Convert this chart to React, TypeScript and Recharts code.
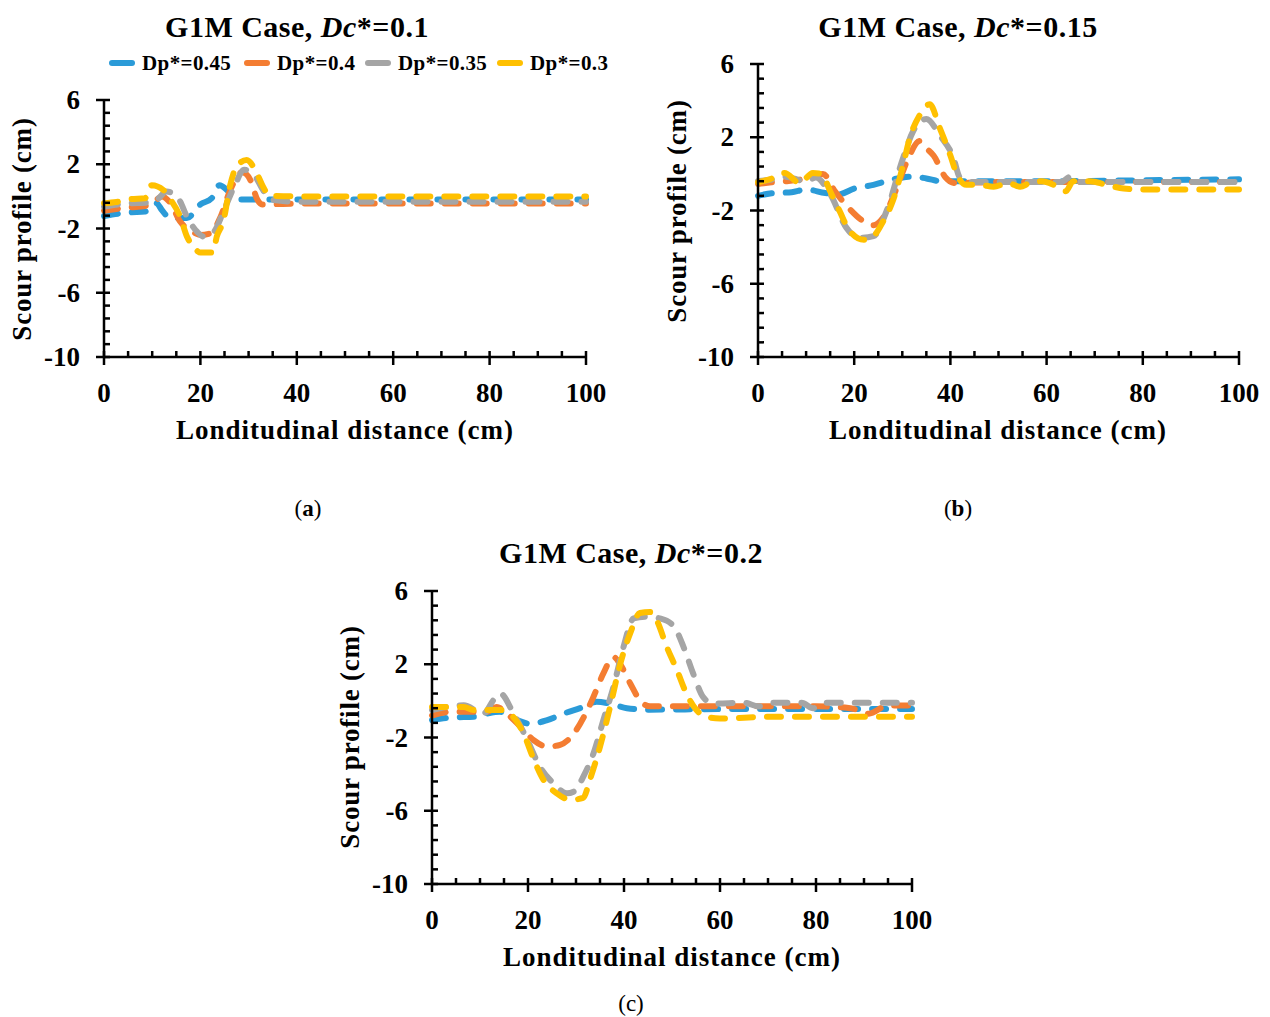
import React from "react";
import { LineChart, Line, XAxis, YAxis } from "recharts";

type Pt = [number, number];

// tick values
const xTicks = [0, 5, 10, 15, 20, 25, 30, 35, 40, 45, 50, 55, 60, 65, 70, 75, 80, 85, 90, 95, 100];
const xMajor = [0, 20, 40, 60, 80, 100];
const yTicks = [-10, -9.2, -8.4, -7.6, -6.8, -6, -5.2, -4.4, -3.6, -2.8, -2, -1.2, -0.4, 0.4, 1.2, 2, 2.8, 3.6, 4.4, 5.2, 6];
const yMajor = [-10, -6, -2, 2, 6];

const seriesNames = ["Dp*=0.45", "Dp*=0.4", "Dp*=0.35", "Dp*=0.3"];
const seriesColors = ["#2B9BD8", "#F47D32", "#A5A5A5", "#FFC000"];

// (a) Dc*=0.1
const a045: Pt[] = [[0, -1.22], [5.4, -1.0], [8.5, -0.95], [10.9, -0.43], [12, -0.85], [13.7, -1.35], [17.2, -1.35], [20, -0.5], [22.4, -0.1], [24, 0.7], [25.5, 0.4], [28, -0.2], [35, -0.2], [60, -0.2], [100, -0.2]];
const a040: Pt[] = [[0, -0.89], [5.4, -0.68], [8.5, -0.6], [10.9, -0.2], [12, 0], [13.8, -0.43], [15.8, -1.57], [17.9, -2.1], [20, -2.4], [22.1, -2.3], [24.2, -1.26], [26.2, 0.4], [28.7, 1.5], [30.4, 1.0], [31.8, -0.2], [32.8, -0.5], [40, -0.45], [100, -0.45]];
const a035: Pt[] = [[0, -0.64], [5.4, -0.43], [8.5, -0.4], [10.9, -0.22], [13, 0.3], [15.6, -0.22], [17.2, -1.26], [19.3, -2.2], [20.7, -2.5], [22.8, -2.2], [24.9, -0.85], [27, 0.6], [29.1, 1.65], [31.1, 1.35], [33.2, 0.3], [34.9, -0.22], [40, -0.33], [100, -0.33]];
const a030: Pt[] = [[0, -0.43], [2.6, -0.35], [5.4, -0.18], [8.5, -0.12], [9.9, 0.7], [12.3, 0.4], [13.8, -0.2], [15.8, -1.26], [17.2, -2.5], [18.5, -3.1], [20, -3.5], [22.6, -3.5], [23.4, -2.5], [24.8, -1.5], [26.1, 0.6], [27.5, 1.85], [29.6, 2.27], [31.7, 1.44], [33, 0.6], [34.4, 0.05], [40, 0], [100, 0]];

// (b) Dc*=0.15
const b045: Pt[] = [[0, -1.2], [3, -1.05], [7, -1.0], [10, -0.85], [14, -1.05], [17, -1.1], [20, -0.8], [24, -0.6], [28, -0.3], [32, -0.15], [35, -0.25], [38, -0.4], [45, -0.4], [60, -0.4], [80, -0.35], [100, -0.3]];
const b040: Pt[] = [[0, -0.55], [3, -0.45], [6, -0.4], [9, -0.3], [13.5, 0], [16, -0.95], [19, -1.9], [22, -2.6], [24, -2.8], [26, -2.4], [28.8, -0.8], [31, 0.7], [33.6, 1.8], [35, 1.4], [36.5, 1.0], [39, -0.2], [41, -0.5], [50, -0.45], [70, -0.45], [100, -0.45]];
const b035: Pt[] = [[0, -0.4], [3, -0.3], [5.5, -0.15], [10, -0.4], [12, -0.2], [15, -1.1], [18.4, -2.95], [21, -3.5], [24, -3.4], [26.7, -2.05], [30.2, 0.9], [32.2, 2.3], [35, 3.0], [37.8, 2.1], [40.6, 0.9], [42, -0.2], [45, -0.45], [60, -0.45], [63, -0.45], [65, -0.15], [67, -0.45], [80, -0.45], [100, -0.45]];
const b030: Pt[] = [[0, -0.46], [2.4, -0.3], [5.5, 0.05], [8.7, -0.5], [11.4, 0.05], [13.2, 0], [15, -0.95], [17, -2.05], [19, -3.1], [22, -3.6], [24, -3.4], [26, -2.6], [28, -1.5], [30, 0.3], [31.6, 2.0], [33.6, 3.2], [35.7, 3.8], [37.8, 2.5], [40, 1.0], [41.3, 0], [43.3, -0.6], [46, -0.6], [49, -0.7], [52, -0.5], [54.5, -0.7], [56.5, -0.5], [59, -0.4], [61.5, -0.6], [64, -0.95], [65.5, -0.4], [69, -0.4], [72.5, -0.6], [76, -0.8], [80, -0.85], [100, -0.85]];

// (c) Dc*=0.2
const c045: Pt[] = [[0, -1.05], [4.5, -0.9], [8.7, -0.87], [11.4, -0.7], [14.2, -0.6], [17.7, -1.05], [20.5, -1.25], [24, -1.05], [27.4, -0.7], [31.6, -0.33], [34.3, -0.05], [37, -0.15], [40.6, -0.4], [45, -0.48], [60, -0.45], [80, -0.45], [100, -0.45]];
const c040: Pt[] = [[0, -0.8], [4, -0.6], [8, -0.6], [11.4, -0.6], [13.5, -0.33], [15.6, -0.7], [18.4, -1.4], [21.2, -2.15], [24, -2.5], [26.7, -2.4], [29.5, -1.8], [31.6, -0.9], [33.6, 0.2], [35.7, 1.5], [37.8, 2.4], [39.2, 2.0], [41.3, 0.95], [43.3, 0.04], [45.4, -0.3], [60, -0.3], [80, -0.3], [85, -0.35], [88, -0.45], [91, -0.7], [95, -0.25], [100, -0.25]];
const c035: Pt[] = [[0, -0.5], [6.6, -0.24], [10.7, -0.7], [12.8, 0.04], [14.2, 0.4], [17, -0.7], [19.8, -2.1], [22.5, -3.6], [25.3, -4.5], [28.1, -5.05], [29.5, -4.96], [31.6, -4.1], [33.6, -2.9], [35.7, -1.05], [37.8, 0.76], [39.9, 2.95], [42, 4.5], [44.7, 4.6], [47.5, 4.5], [50.3, 4.1], [52.4, 2.95], [54.4, 1.5], [56.5, 0.2], [58.6, -0.15], [65, -0.1], [68, -0.3], [71, -0.1], [77, -0.1], [79.4, -0.4], [82, -0.1], [100, -0.1]];
const c030: Pt[] = [[0, -0.33], [6.6, -0.33], [8.7, -0.5], [14.2, -0.5], [17, -0.9], [19.1, -1.8], [21.2, -3.2], [23.2, -4.3], [26, -5.05], [28.8, -5.4], [31.5, -5.3], [32.9, -4.3], [35, -2.5], [37.1, -0.33], [39.2, 2.0], [41.3, 3.7], [43.3, 4.8], [45.4, 4.85], [46.8, 4.4], [48.9, 2.95], [51, 1.7], [53, 0.4], [55.1, -0.5], [57.2, -0.87], [60, -0.96], [70, -0.87], [100, -0.87]];

const FONT = '"Liberation Serif", "Times New Roman", serif';

const toRows = (pts: Pt[]) => pts.map(([x, y]) => ({ x, y }));
const isIn = (list: number[], v: number) => list.some((m) => Math.abs(m - v) < 1e-6);

function XTick(props: any) {
  const { x, y, payload } = props;
  const major = isIn(xMajor, payload.value);
  return (
    <g>
      <line x1={x} x2={x} y1={y - 6} y2={major ? y + 8 : y} stroke="#000" strokeWidth={2.5} />
      {major && (
        <text x={x} y={y + 36} textAnchor="middle" dominantBaseline="central" fontFamily={FONT} fontWeight="bold" fontSize={27} fill="#000">
          {payload.value}
        </text>
      )}
    </g>
  );
}

function YTick(props: any) {
  const { x, y, payload } = props;
  const major = isIn(yMajor, payload.value);
  return (
    <g>
      <line x1={major ? x - 8 : x} x2={x + 6} y1={y} y2={y} stroke="#000" strokeWidth={2.5} />
      {major && (
        <text x={x - 24} y={y} textAnchor="end" dominantBaseline="central" fontFamily={FONT} fontWeight="bold" fontSize={27} fill="#000">
          {Math.round(payload.value)}
        </text>
      )}
    </g>
  );
}

interface PanelProps {
  left: number;
  top: number;
  width: number;
  height: number;
  series: Pt[][];
}

function Panel({ left, top, width, height, series }: PanelProps) {
  const pad = { l: 110, r: 60, t: 20, b: 110 };
  return (
    <div style={{ position: "absolute", left: left - pad.l, top: top - pad.t }}>
      <LineChart
        width={width + pad.l + pad.r}
        height={height + pad.t + pad.b}
        margin={{ top: pad.t, right: pad.r, bottom: pad.b - 2, left: pad.l - 2 }}
      >
        <XAxis
          type="number"
          dataKey="x"
          domain={[0, 100]}
          ticks={xTicks}
          interval={0}
          height={2}
          tickSize={0}
          tickMargin={0}
          tick={(p: any) => <XTick {...p} />}
          axisLine={{ stroke: "#000", strokeWidth: 2.5 }}
          allowDuplicatedCategory={false}
        />
        <YAxis
          type="number"
          dataKey="y"
          domain={[-10, 6]}
          ticks={yTicks}
          interval={0}
          width={2}
          tickSize={0}
          tickMargin={0}
          tick={(p: any) => <YTick {...p} />}
          axisLine={{ stroke: "#000", strokeWidth: 2.5 }}
        />
        {series.map((pts, i) => (
          <Line
            key={seriesNames[i]}
            data={toRows(pts)}
            dataKey="y"
            name={seriesNames[i]}
            type="monotone"
            stroke={seriesColors[i]}
            strokeWidth={6}
            strokeDasharray="14 14"
            strokeLinecap="round"
            dot={false}
            activeDot={false}
            isAnimationActive={false}
          />
        ))}
      </LineChart>
    </div>
  );
}

const textBase: React.CSSProperties = {
  position: "absolute",
  fontFamily: FONT,
  fontWeight: "bold",
  color: "#000",
  whiteSpace: "nowrap",
  transform: "translate(-50%, -50%)",
  lineHeight: 1,
};

function Title({ cx, cy, dc }: { cx: number; cy: number; dc: string }) {
  return (
    <div style={{ ...textBase, left: cx, top: cy, fontSize: 30, letterSpacing: 0.5 }}>
      G1M Case, <i>Dc</i>*={dc}
    </div>
  );
}

function XLabel({ cx, cy }: { cx: number; cy: number }) {
  return (
    <div style={{ ...textBase, left: cx, top: cy, fontSize: 27, letterSpacing: 1 }}>Londitudinal distance (cm)</div>
  );
}

function YLabel({ cx, cy }: { cx: number; cy: number }) {
  return (
    <div style={{ ...textBase, left: cx, top: cy, fontSize: 27, letterSpacing: 0.8, transform: "translate(-50%, -50%) rotate(-90deg)" }}>
      Scour profile (cm)
    </div>
  );
}

function SubLabel({ cx, cy, letter, bold }: { cx: number; cy: number; letter: string; bold: boolean }) {
  return (
    <div style={{ ...textBase, left: cx, top: cy, fontSize: 23, fontWeight: "normal" }}>
      (<span style={{ fontWeight: bold ? "bold" : "normal" }}>{letter}</span>)
    </div>
  );
}

const legendSwatchX = [112, 247, 368, 500];

function Legend() {
  return (
    <>
      {seriesNames.map((n, i) => (
        <React.Fragment key={n}>
          <svg style={{ position: "absolute", left: legendSwatchX[i] - 4, top: 55 }} width={28} height={16}>
            <line x1={4} x2={24} y1={8} y2={8} stroke={seriesColors[i]} strokeWidth={6} strokeLinecap="round" />
          </svg>
          <div
            style={{
              ...textBase,
              left: legendSwatchX[i] + 30,
              top: 63,
              fontSize: 21,
              letterSpacing: 0.4,
              transform: "translate(0, -50%)",
            }}
          >
            {n}
          </div>
        </React.Fragment>
      ))}
    </>
  );
}

export default function App() {
  return (
    <div style={{ position: "absolute", left: 0, top: 0, width: 1270, height: 1017, background: "#fff", overflow: "hidden" }}>
      {/* (a) */}
      <Title cx={297} cy={27} dc="0.1" />
      <Legend />
      <Panel left={104} top={100} width={482} height={257} series={[a045, a040, a035, a030]} />
      <YLabel cx={22} cy={229} />
      <XLabel cx={345} cy={430} />
      <SubLabel cx={308} cy={508} letter="a" bold />

      {/* (b) */}
      <Title cx={958} cy={27} dc="0.15" />
      <Panel left={758} top={64} width={481} height={293} series={[b045, b040, b035, b030]} />
      <YLabel cx={677} cy={211} />
      <XLabel cx={998} cy={430} />
      <SubLabel cx={958} cy={508} letter="b" bold />

      {/* (c) */}
      <Title cx={631} cy={553} dc="0.2" />
      <Panel left={432} top={591} width={480} height={293} series={[c045, c040, c035, c030]} />
      <YLabel cx={350} cy={737} />
      <XLabel cx={672} cy={957} />
      <SubLabel cx={631} cy={1003} letter="c" bold={false} />
    </div>
  );
}
